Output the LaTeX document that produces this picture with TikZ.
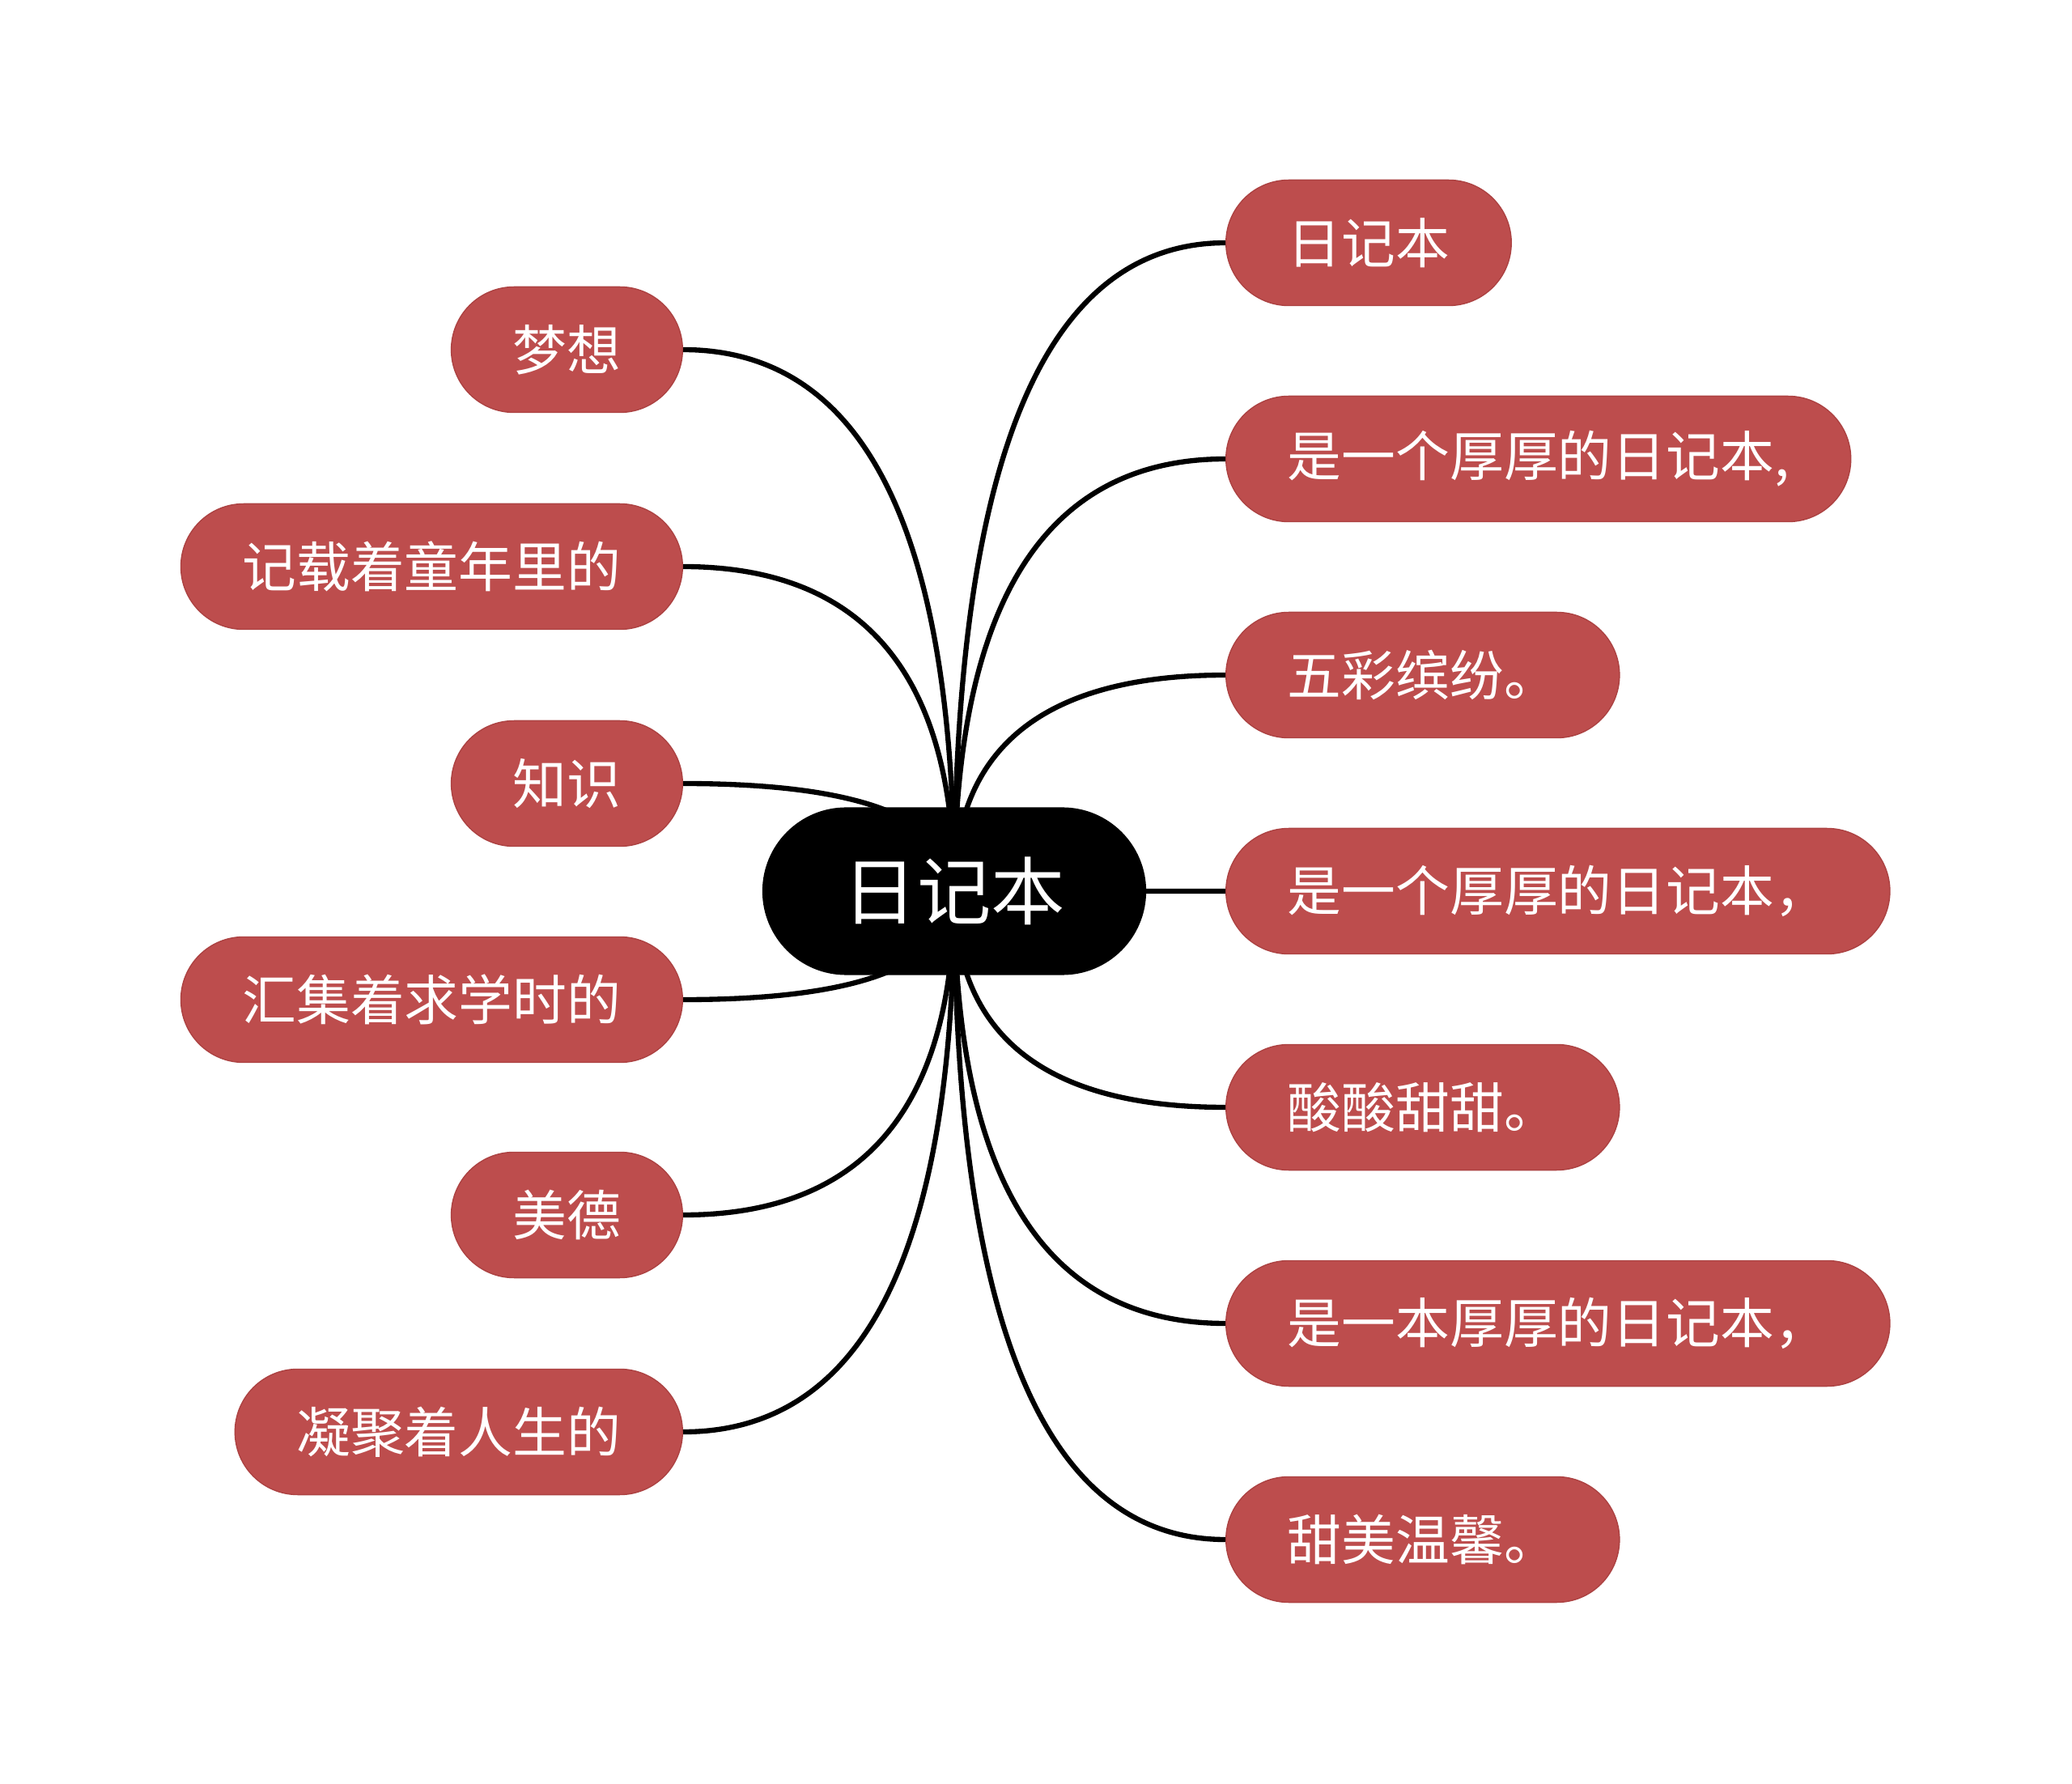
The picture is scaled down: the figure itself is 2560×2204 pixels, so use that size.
\documentclass[tikz,border=0pt]{standalone}
\usepackage{fontspec}
\setmainfont{Noto Sans CJK SC}
\usetikzlibrary{calc}
\definecolor{leafred}{RGB}{189,77,77}
\definecolor{leafedge}{RGB}{172,66,66}
\tikzset{
	leaf/.style={fill=leafred, draw=leafedge, line width=0.4pt, text=white,
		rounded corners=0.775cm, minimum height=1.55cm, inner xsep=0.76cm, inner ysep=0pt,
		font=\fontsize{19pt}{23pt}\selectfont},
	rootbox/.style={fill=black, text=white, rounded corners=1.035cm,
		minimum height=2.07cm, minimum width=4.74cm, inner sep=0pt,
		font=\fontsize{26pt}{31pt}\selectfont},
	branch/.style={to path={.. controls ($(\tikztostart)!2/3!(\tikztostart |- \tikztotarget)$)
		and ($(\tikztotarget)!2/3!(\tikztostart |- \tikztotarget)$) .. (\tikztotarget)}},
	link/.style={line width=1.8pt, black}
}
\begin{document}
\begin{tikzpicture}[x=0.01cm,y=-0.01cm]
	\useasboundingbox (0,0) rectangle (2560,2204);
	\coordinate (hub) at (1179,1101);
	% right side
	\node[leaf, anchor=west] (r1) at (1514,300) {日记本};
	\node[leaf, anchor=west] (r2) at (1514,567) {是一个厚厚的日记本,};
	\node[leaf, anchor=west] (r3) at (1514,834) {五彩缤纷。};
	\node[leaf, anchor=west] (r4) at (1514,1101) {是一个厚厚的日记本，};
	\node[leaf, anchor=west] (r5) at (1514,1368) {酸酸甜甜。};
	\node[leaf, anchor=west] (r6) at (1514,1635) {是一本厚厚的日记本，};
	\node[leaf, anchor=west] (r7) at (1514,1902) {甜美温馨。};
	% left side
	\node[leaf, anchor=east] (l1) at (844,432) {梦想};
	\node[leaf, anchor=east] (l2) at (844,700) {记载着童年里的};
	\node[leaf, anchor=east] (l3) at (844,968) {知识};
	\node[leaf, anchor=east] (l4) at (844,1235) {汇集着求学时的};
	\node[leaf, anchor=east] (l5) at (844,1501) {美德};
	\node[leaf, anchor=east] (l6) at (844,1769) {凝聚着人生的};
	% links
	\foreach \r in {r1,r2,r3,r4,r5,r6,r7}
		\draw[link] (hub) to[branch] (\r.west);
	\foreach \l in {l1,l2,l3,l4,l5,l6}
		\draw[link] (hub) to[branch] (\l.east);
	\node[rootbox] (root) at (hub) {日记本};
\end{tikzpicture}
\end{document}
